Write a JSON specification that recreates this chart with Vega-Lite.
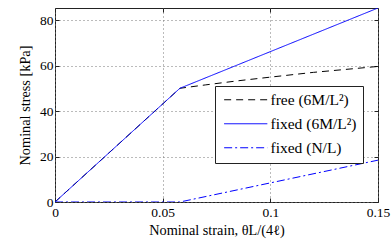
{
  "$schema": "https://vega.github.io/schema/vega-lite/v6.json",
  "width": 323,
  "height": 194,
  "autosize": "none",
  "padding": {"left": 55, "top": 8, "right": 14, "bottom": 48},
  "background": "white",
  "config": {
    "font": "Liberation Serif",
    "view": {"stroke": "#222", "strokeWidth": 1},
    "axis": {
      "labelFont": "Liberation Serif",
      "titleFont": "Liberation Serif",
      "labelFontSize": 13.5,
      "titleFontSize": 14.3,
      "titleFontWeight": "normal",
      "labelColor": "black",
      "titleColor": "black",
      "labelFlush": false,
      "domain": false,
      "tickColor": "#222",
      "tickSize": -4,
      "gridColor": "#777",
      "gridDash": [1, 3],
      "gridWidth": 1
    }
  },
  "resolve": {"axis": {"x": "independent", "y": "independent"}},
  "datasets": {
    "curves": [
      {"series": "free (6M/L²)", "i": 0, "strain": 0, "stress": 0},
      {"series": "free (6M/L²)", "i": 1, "strain": 0.058, "stress": 50},
      {"series": "free (6M/L²)", "i": 2, "strain": 0.07, "stress": 51.5},
      {"series": "free (6M/L²)", "i": 3, "strain": 0.085, "stress": 53.3},
      {"series": "free (6M/L²)", "i": 4, "strain": 0.1, "stress": 54.9},
      {"series": "free (6M/L²)", "i": 5, "strain": 0.12, "stress": 57.0},
      {"series": "free (6M/L²)", "i": 6, "strain": 0.15, "stress": 59.6},
      {"series": "fixed (6M/L²)", "i": 0, "strain": 0, "stress": 0},
      {"series": "fixed (6M/L²)", "i": 1, "strain": 0.058, "stress": 50},
      {"series": "fixed (6M/L²)", "i": 2, "strain": 0.15, "stress": 85.3},
      {"series": "fixed (N/L)", "i": 0, "strain": 0, "stress": 0},
      {"series": "fixed (N/L)", "i": 1, "strain": 0.058, "stress": 0},
      {"series": "fixed (N/L)", "i": 2, "strain": 0.15, "stress": 18.4}
    ]
  },
  "layer": [
    {
      "data": {"name": "curves"},
      "mark": {"type": "line", "strokeWidth": 1, "clip": true},
      "encoding": {
        "x": {
          "field": "strain", "type": "quantitative",
          "scale": {"domain": [0, 0.15], "nice": false, "zero": false},
          "axis": {"orient": "bottom", "values": [0, 0.05, 0.1, 0.15], "format": ".2~f", "labelPadding": 7, "title": "Nominal strain, θL/(4ℓ)", "titlePadding": 5, "grid": true}
        },
        "y": {
          "field": "stress", "type": "quantitative",
          "scale": {"domain": [0, 85.3], "nice": false},
          "axis": {"orient": "left", "values": [0, 20, 40, 60, 80], "labelPadding": 6, "title": "Nominal stress [kPa]", "titlePadding": 7, "grid": true}
        },
        "color": {
          "field": "series", "type": "nominal",
          "scale": {"domain": ["free (6M/L²)", "fixed (6M/L²)", "fixed (N/L)"], "range": ["#000000", "#0000ff", "#0000ff"]},
          "legend": {
            "title": null,
            "orient": "none",
            "legendX": 160,
            "legendY": 78,
            "fillColor": "white",
            "strokeColor": "#222",
            "padding": 6,
            "symbolType": "M-3.6,0H3.6",
            "symbolSize": 144,
            "symbolStrokeWidth": 1,
            "symbolOffset": 17,
            "labelFont": "Liberation Serif",
            "labelFontSize": 15.5,
            "labelColor": "black",
            "labelOffset": 17,
            "rowPadding": 7
          }
        },
        "strokeDash": {
          "field": "series", "type": "nominal",
          "scale": {"domain": ["free (6M/L²)", "fixed (6M/L²)", "fixed (N/L)"], "range": [[7, 5], [1, 0], [8, 3, 2, 3]]},
          "legend": {
            "title": null,
            "orient": "none",
            "legendX": 160,
            "legendY": 78,
            "fillColor": "white",
            "strokeColor": "#222",
            "padding": 6,
            "symbolType": "M-3.6,0H3.6",
            "symbolSize": 144,
            "symbolStrokeWidth": 1,
            "symbolOffset": 17,
            "labelFont": "Liberation Serif",
            "labelFontSize": 15.5,
            "labelColor": "black",
            "labelOffset": 17,
            "rowPadding": 7
          }
        },
        "order": {"field": "i", "type": "quantitative"}
      }
    },
    {
      "data": {"name": "curves"},
      "mark": {"type": "point", "opacity": 0},
      "encoding": {
        "x": {"field": "strain", "type": "quantitative", "axis": {"orient": "top", "values": [0, 0.05, 0.1, 0.15], "labels": false, "title": null, "grid": false}},
        "y": {"field": "stress", "type": "quantitative", "axis": {"orient": "right", "values": [0, 20, 40, 60, 80], "labels": false, "title": null, "grid": false}}
      }
    }
  ]
}
